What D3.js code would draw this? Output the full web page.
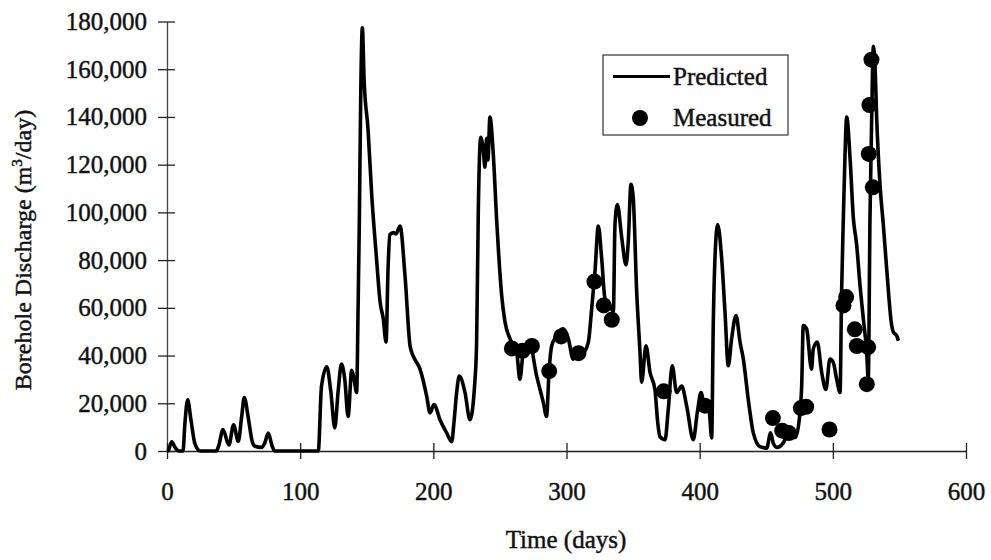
<!DOCTYPE html>
<html>
<head>
<meta charset="utf-8">
<script src="https://cdn.jsdelivr.net/npm/d3@7"></script>
<style>
  body { margin: 0; background: #fff; }
  svg { font-family: "Liberation Serif", "Times New Roman", serif; }
  svg text { stroke: #111; stroke-width: 0.45px; }
</style>
</head>
<body>
<svg width="991" height="560"></svg>
<script>
// predicted borehole discharge, [day, m3/day]
var predicted = [
  [0,0],[1,200],[3.5,3900],[6,1500],[9,0],[12,0],[13.5,12000],[15.5,21500],[18,13000],[21,3000],[25,0],
  [37,0],[39,2500],[42,9000],[46.5,2500],[50,11000],[53.5,4000],[56,14000],[58,22400],[61,14000],[64,4000],
  [66,2000],[71,1500],[73.5,3500],[76,7500],[79,2000],[81,0],[113.6,0],[116,27000],[120,35300],[123,25000],
  [126,9700],[128.5,25000],[131,36400],[133.5,30000],[136,14500],[138.7,33800],[140.5,30000],[142.4,24500],
  [143.5,60000],[144.4,94900],[145.5,150000],[146.7,177400],[148,155700],[151,134500],[153.7,107600],
  [157.5,79500],[160,62600],[162.4,55400],[164.5,45700],[166,76600],[167.4,90700],[170,91500],[172,91000],
  [175,94300],[178.7,73700],[182.5,44100],[184,41000],[186,38500],[190,34300],[195,23000],[197.5,16000],
  [200.5,19500],[205,13100],[210,7600],[213.8,3900],[215.5,12000],[217.5,24500],[219.5,31400],[223.8,24500],
  [227.5,13100],[231.3,30000],[232.5,45700],[233.8,101900],[235.6,131500],[237.5,126000],[238.8,118900],
  [240,131000],[241,122000],[242.5,140000],[245,124500],[247.6,96400],[251.3,65300],[253.8,54100],
  [257.6,47000],[262.6,41400],[265,30000],[267.6,41400],[272.6,44100],[277.6,31400],[282.6,20300],
  [285,14500],[287,34300],[288.9,44100],[292.6,48300],[294,49900],[297.6,51200],[301.4,47000],[305,38500],
  [309,42700],[312.6,41400],[316.4,45700],[318.9,59600],[321.4,75300],[323.9,94300],[326.4,80800],
  [328.9,63900],[332.6,61000],[335.2,58400],[336.4,94900],[338.2,103300],[341.5,89300],[344.7,78000],
  [346.4,88000],[348.4,111800],[350.1,106200],[352.7,66800],[355.2,41400],[356.4,28800],[359.7,44100],
  [362.7,33000],[366.4,25800],[368.5,12000],[370.2,6000],[374,4700],[376.4,17300],[379.4,35700],
  [382.7,24500],[386.5,27200],[390.3,18700],[395.2,4700],[398.2,16000],[401,24500],[404,17300],[407,17000],
  [409,5500],[410.2,52600],[411.5,80800],[413.5,94900],[416.5,80800],[419,58400],[421.5,35700],[424,47000],
  [427.3,56800],[430.3,45700],[432.8,38500],[436.5,21600],[440.3,7600],[445.3,1800],[450.3,1200],
  [453.3,7600],[455.2,3400],[458,1500],[462.8,3400],[465.3,6000],[467.8,5500],[472,5800],[475.3,16000],
  [476.6,27200],[477.8,52600],[480.3,51200],[484,34300],[485.3,42700],[488.3,45700],[491.6,33000],
  [494.8,25800],[497.8,38500],[500.3,37200],[502.9,30000],[505.4,24500],[506.6,66800],[507.9,97700],
  [509.1,123100],[510.4,140000],[512.9,123100],[515.4,97700],[517.9,86400],[520.4,69500],[522.9,55400],
  [525.4,41400],[526.6,30000],[527.9,97700],[529.2,140000],[530.4,169600],[531.7,161200],[532.9,140000],
  [535.4,111800],[537.9,94900],[540.4,76600],[544.2,52600],[545.4,49900],[548,48300],[549.2,46200]
]

// measured discharge
var measured = [
  [259,43000],[267,42000],[274,44000],[287,33500],[296,48000],[309,41000],[321,71000],[328,61000],
  [334,55000],[373,25000],[404,19000],[455,13800],[462,8500],[467,7500],[476,18000],[480,18500],
  [497.5,9000],[508,61000],[510,64500],[516.5,51000],[518,44000],[525.5,28000],[526.5,43500],
  [527,124500],[527.5,145000],[529,164000],[530,110500]
]

var xTicks = [0,100,200,300,400,500,600]
var yTicks = [0,20000,40000,60000,80000,100000,120000,140000,160000,180000]

var format = d3.format(",")
var svg = d3.select("svg")

var x = d3.scaleLinear().domain([0, 600]).range([167, 966])
var y = d3.scaleLinear().domain([0, 180000]).range([451, 21.5])

// y axis
var gy = svg.append("g")
  .attr("transform", "translate(167,0)")
  .call(d3.axisLeft(y).tickValues(yTicks).tickFormat(format).tickSizeInner(9).tickSizeOuter(0).tickPadding(11))
gy.select(".domain").attr("stroke", "#444").attr("stroke-width", 1.3)
gy.selectAll(".tick line").attr("x1", 8).attr("stroke", "#222").attr("stroke-width", 1.3)
gy.selectAll(".tick text").attr("font-size", 25).attr("fill", "#111").attr("font-family", "Liberation Serif")

// x axis
var gx = svg.append("g")
  .attr("transform", "translate(0,451)")
  .call(d3.axisBottom(x).tickValues(xTicks).tickSizeInner(8).tickSizeOuter(0))
gx.select(".domain").attr("stroke", "#222").attr("stroke-width", 1.3)
gx.selectAll(".tick line").attr("y1", -8).attr("stroke", "#222").attr("stroke-width", 1.3)
gx.selectAll(".tick text").attr("font-size", 25).attr("fill", "#111").attr("font-family", "Liberation Serif")
  .attr("y", 49).attr("dy", 0)

// predicted line
var line = d3.line()
  .x(d => x(d[0]))
  .y(d => y(d[1]))
  .curve(d3.curveMonotoneX)

svg.append("path")
  .datum(predicted)
  .attr("fill", "none")
  .attr("stroke", "#000")
  .attr("stroke-width", 3.6)
  .attr("stroke-linejoin", "round")
  .attr("d", line)

// measured points
svg.append("g")
  .selectAll("circle")
  .data(measured)
  .join("circle")
  .attr("cx", d => x(d[0]))
  .attr("cy", d => y(d[1]))
  .attr("r", 8)
  .attr("fill", "#000")

// axis titles
svg.append("text")
  .attr("x", 566).attr("y", 548)
  .attr("text-anchor", "middle")
  .attr("font-size", 25)
  .attr("fill", "#111")
  .text("Time (days)")

var yt = svg.append("text")
  .attr("transform", "translate(31,250) rotate(-90)")
  .attr("text-anchor", "middle")
  .attr("font-size", 24)
  .attr("fill", "#111")
yt.append("tspan").text("Borehole Discharge (m")
yt.append("tspan").attr("font-size", 15).attr("dy", -9).text("3")
yt.append("tspan").attr("dy", 9).text("/day)")

// legend
var lg = svg.append("g")
lg.append("rect")
  .attr("x", 603).attr("y", 55).attr("width", 185).attr("height", 80)
  .attr("fill", "#fff").attr("stroke", "#333").attr("stroke-width", 1.2)
lg.append("line")
  .attr("x1", 613).attr("x2", 670).attr("y1", 76.5).attr("y2", 76.5)
  .attr("stroke", "#000").attr("stroke-width", 3)
lg.append("circle").attr("cx", 640).attr("cy", 118).attr("r", 8).attr("fill", "#000")
lg.append("text").attr("x", 673).attr("y", 85).attr("font-size", 25).attr("fill", "#111").text("Predicted")
lg.append("text").attr("x", 673).attr("y", 126).attr("font-size", 25).attr("fill", "#111").text("Measured")
</script>
</body>
</html>
